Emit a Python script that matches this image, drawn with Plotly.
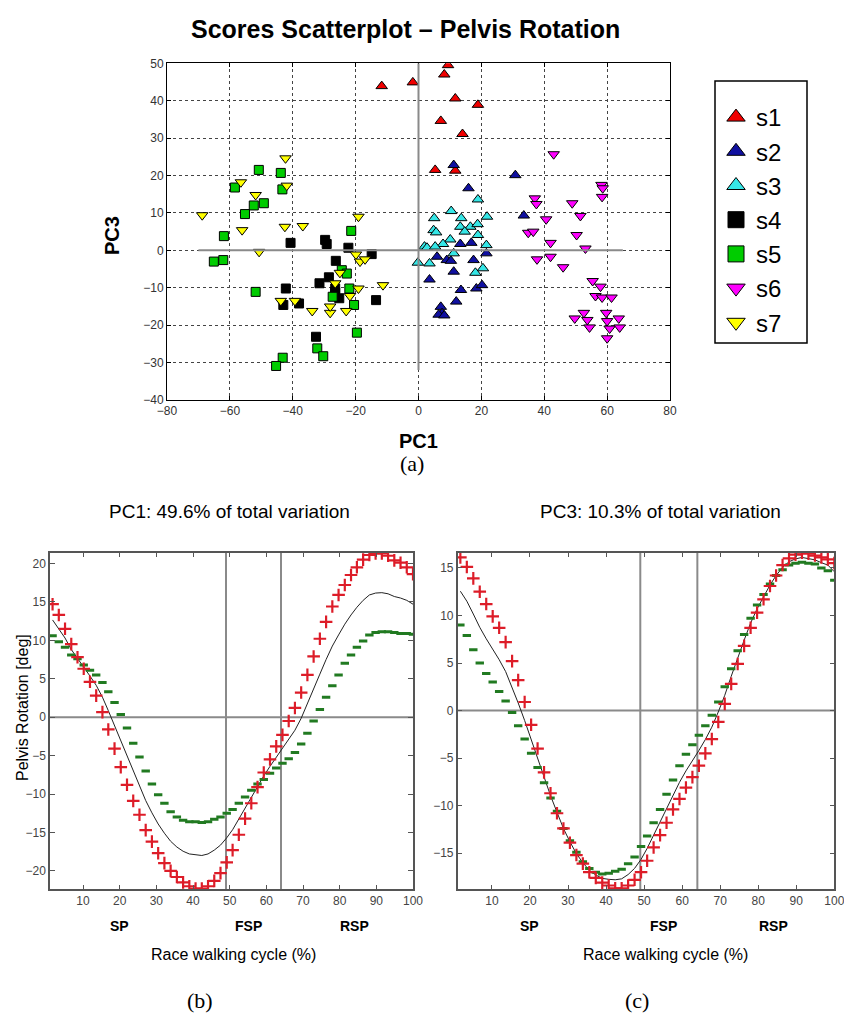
import plotly.graph_objects as go

W, H = 844, 1016
SANS = "Liberation Sans, Arial, Helvetica, sans-serif"
SERIF = "Liberation Serif, Times New Roman, serif"

# ---------------- (a) scores scatterplot: PC1 vs PC3 ----------------
series_names = ["s1", "s2", "s3", "s4", "s5", "s6", "s7"]
s1_pc1 = [-11.7, -1.8, 9.4, 8.2, 11.7, 18.9, 7.1, 14.0, 5.3, 11.7]
s1_pc3 = [43.9, 44.9, 49.5, 47.0, 40.6, 38.9, 34.6, 31.1, 21.5, 21.3]
s2_pc1 = [11.2, 30.8, 15.9, 33.5, 13.3, 16.8, 5.9, 9.0, 10.3, 11.2, 17.5, 21.6, 3.5,
          13.5, 18.4, 20.2, 12.0, 7.1, 7.5, 6.4, 8.2]
s2_pc3 = [22.8, 20.1, 16.6, 9.3, 1.7, 2.0, -1.7, -2.6, -2.8, -5.7, -2.6, -0.8, -7.8,
          -10.6, -10.2, -9.3, -13.7, -15.1, -16.8, -17.2, -17.4]
s3_pc1 = [18.9, 10.4, 5.0, 13.6, 21.8, 4.8, 5.6, 13.3, 16.5, 18.8, 14.7, 18.9, 10.1,
          7.8, 1.9, 2.7, 5.3, 11.2, 21.6, -0.2, 3.5, 20.5, 18.1]
s3_pc3 = [13.6, 10.5, 8.6, 8.6, 9.0, 5.4, 4.8, 6.3, 6.3, 7.0, 5.0, 4.1, 2.9,
          1.7, 1.0, 0.7, 1.0, -0.8, 1.4, -3.3, -3.5, -4.8, -6.0]
s4_pc1 = [-40.7, -29.7, -29.2, -22.3, -14.9, -26.3, -28.5, -31.5, -26.5, -42.2, -25.2,
          -43.0, -38.0, -13.5, -32.6, -26.5]
s4_pc3 = [2.0, 2.8, 1.7, 0.7, -1.0, -2.8, -7.2, -8.8, -10.2, -10.2, -12.8,
          -14.6, -14.2, -13.3, -23.1, -11.2]
s5_pc1 = [-50.8, -43.8, -58.4, -43.3, -49.2, -52.4, -55.2, -21.4, -61.9, -65.1, -62.1,
          -51.8, -24.4, -22.8, -27.3, -22.0, -20.5, -19.6, -32.2, -30.3, -43.2, -45.3]
s5_pc3 = [21.5, 20.7, 16.8, 16.3, 12.6, 12.0, 9.7, 5.2, 3.8, -3.0, -2.6,
          -11.1, -5.3, -6.2, -12.4, -10.2, -14.6, -22.0, -26.2, -28.3, -28.7, -30.9]
s6_pc1 = [43.0, 58.2, 58.6, 58.4, 37.0, 37.5, 48.9, 51.5, 40.6, 34.9, 36.5, 50.3, 42.0,
          53.1, 37.7, 42.0, 46.0, 55.4, 57.9, 56.3, 58.4, 61.4, 52.6, 59.7, 49.7, 53.7,
          60.0, 63.7, 54.4, 60.8, 64.0, 60.0]
s6_pc3 = [25.7, 17.5, 16.6, 14.3, 13.9, 12.4, 12.6, 9.2, 8.3, 4.7, 5.0, 4.1, 2.0,
          0.5, -2.4, -1.7, -4.5, -8.2, -9.7, -12.2, -12.6, -12.6, -16.7, -16.7, -18.2, -18.6,
          -18.9, -18.2, -20.6, -20.9, -20.6, -23.5]
s7_pc1 = [-68.8, -56.5, -51.8, -42.3, -41.9, -19.1, -56.1, -42.5, -36.8, -50.7, -19.9,
          -18.6, -17.0, -25.0, -26.5, -19.1, -11.3, -21.8, -43.8, -39.3, -33.8, -28.1,
          -28.1, -23.0]
s7_pc3 = [9.4, 18.2, 14.8, 24.6, 17.3, 9.0, 5.4, 6.3, 6.5, -0.4, -1.1,
          -3.0, -2.4, -6.0, -8.8, -10.2, -9.3, -12.2, -13.5, -13.5, -16.2, -16.7,
          -15.0, -16.2]

pc1_ticks = [-80, -60, -40, -20, 0, 20, 40, 60, 80]
pc3_ticks = [-40, -30, -20, -10, 0, 10, 20, 30, 40, 50]

# ---------------- (b), (c) reconstructed curves ----------------
cycle_pct = [1.7, 3.4, 5.1, 6.8, 8.5, 10.2, 11.9, 13.6, 15.3, 16.9,
             18.6, 20.3, 22.0, 23.7, 25.4, 27.1, 28.8, 30.5, 32.2, 33.9,
             35.6, 37.3, 39.0, 40.7, 42.4, 44.1, 45.8, 47.5, 49.2, 50.8,
             52.5, 54.2, 55.9, 57.6, 59.3, 61.0, 62.7, 64.4, 66.1, 67.8,
             69.5, 71.2, 72.9, 74.6, 76.3, 78.0, 79.7, 81.4, 83.1, 84.7,
             86.4, 88.1, 89.8, 91.5, 93.2, 94.9, 96.6, 98.3, 100.0]

pc1_plus = [14.7, 13.3, 11.5, 9.5, 7.8, 6.3, 4.6, 2.8, 0.65, -1.6,
            -4.1, -6.5, -8.8, -10.9, -12.7, -14.7, -16.2, -17.7, -19.0, -20.0,
            -20.8, -21.5, -22.0, -22.3, -22.3, -22.0, -21.3, -20.3, -18.9, -17.3,
            -15.3, -13.2, -11.2, -9.1, -7.2, -5.5, -3.8, -2.3, -0.5, 1.2,
            3.2, 5.5, 7.9, 10.2, 12.4, 14.4, 15.9, 17.2, 18.5, 19.5,
            20.5, 21.1, 21.3, 21.3, 21.0, 20.4, 20.1, 19.5, 18.6]
pc1_minus = [10.6, 9.8, 9.1, 8.1, 7.6, 6.8, 6.1, 5.5, 4.5, 3.3,
             1.9, 0.35, -1.4, -3.4, -5.2, -7.0, -8.7, -10.1, -11.2, -12.3,
             -13.0, -13.4, -13.6, -13.6, -13.7, -13.6, -13.3, -13.0, -12.5, -12.0,
             -11.2, -10.4, -9.5, -8.7, -8.1, -7.3, -6.6, -6.0, -5.4, -4.6,
             -3.5, -2.1, -0.5, 1.0, 2.6, 4.1, 5.5, 7.0, 8.1, 9.1,
             9.9, 10.7, 11.0, 11.1, 11.1, 11.0, 10.9, 10.9, 10.8]
pc1_mean = [12.65, 11.55, 10.3, 8.8, 7.7, 6.55, 5.35, 4.15, 2.6, 0.85,
            -1.1, -3.1, -5.1, -7.15, -8.95, -10.85, -12.45, -13.9, -15.1, -16.15,
            -16.9, -17.45, -17.8, -17.95, -18.0, -17.8, -17.3, -16.65, -15.7, -14.65,
            -13.25, -11.8, -10.35, -8.9, -7.65, -6.4, -5.2, -4.15, -2.95, -1.7,
            -0.15, 1.7, 3.7, 5.6, 7.5, 9.25, 10.7, 12.1, 13.3, 14.3,
            15.2, 15.9, 16.15, 16.2, 16.05, 15.7, 15.5, 15.2, 14.7]

pc3_plus = [16.1, 15.1, 13.9, 12.5, 11.2, 9.9, 8.7, 7.2, 5.2, 3.2,
            0.9, -1.5, -4.0, -6.5, -8.7, -10.8, -12.4, -13.9, -15.2, -16.1,
            -17.0, -17.6, -18.1, -18.4, -18.7, -18.7, -18.4, -17.8, -17.0, -15.8,
            -14.4, -13.1, -11.8, -10.4, -9.3, -8.1, -7.0, -5.8, -4.5, -3.0,
            -1.2, 0.7, 2.8, 4.9, 6.8, 8.7, 10.3, 11.7, 13.1, 14.2,
            15.3, 16.0, 16.4, 16.6, 16.5, 16.3, 16.1, 15.9, 15.5]
pc3_minus = [9.0, 7.9, 6.4, 5.0, 3.9, 3.0, 2.0, 1.0, -0.2, -1.6,
             -3.0, -4.5, -6.0, -7.6, -9.2, -10.6, -12.4, -13.7, -14.9, -15.9,
             -16.6, -17.0, -17.2, -17.1, -16.9, -16.7, -16.1, -15.4, -14.3, -13.2,
             -11.8, -10.4, -8.8, -7.3, -5.8, -4.6, -3.6, -2.6, -1.6, -0.5,
             0.9, 2.5, 4.4, 6.3, 8.0, 9.7, 11.1, 12.2, 13.3, 14.2,
             14.8, 15.3, 15.5, 15.6, 15.5, 15.4, 15.0, 14.7, 13.7]
pc3_mean = [12.55, 11.5, 10.15, 8.75, 7.55, 6.45, 5.35, 4.1, 2.5, 0.8,
            -1.05, -3.0, -5.0, -7.05, -8.95, -10.7, -12.4, -13.8, -15.05, -16.0,
            -16.8, -17.3, -17.65, -17.75, -17.8, -17.7, -17.25, -16.6, -15.65, -14.5,
            -13.1, -11.75, -10.3, -8.85, -7.55, -6.35, -5.3, -4.2, -3.05, -1.75,
            -0.15, 1.6, 3.6, 5.6, 7.4, 9.2, 10.7, 11.95, 13.2, 14.2,
            15.05, 15.65, 15.95, 16.1, 16.0, 15.85, 15.55, 15.3, 14.6]

phase_bounds = [49, 64]
phase_labels = ["SP", "FSP", "RSP"]
phase_label_pos = [20, 55, 84]
cycle_ticks = [10, 20, 30, 40, 50, 60, 70, 80, 90, 100]
rot_ticks_b = [-20, -15, -10, -5, 0, 5, 10, 15, 20]
rot_ticks_c = [-15, -10, -5, 0, 5, 10, 15]

# ---------------- styling ----------------
colors = ["#f00000", "#1010a0", "#35e6e6", "#000000", "#00cc00", "#ff00ff", "#ffff00"]
symbols = ["triangle-up", "triangle-up", "triangle-up", "square", "square",
           "triangle-down", "triangle-down"]
sizes = [10, 10, 10, 9, 9, 10, 10]
xs = [s1_pc1, s2_pc1, s3_pc1, s4_pc1, s5_pc1, s6_pc1, s7_pc1]
ys = [s1_pc3, s2_pc3, s3_pc3, s4_pc3, s5_pc3, s6_pc3, s7_pc3]


def px(x):
    return x / W


def py(y):
    return 1 - y / H


fig = go.Figure()

for name, c, sym, sz, xv, yv in zip(series_names, colors, symbols, sizes, xs, ys):
    fig.add_trace(go.Scatter(
        x=xv, y=yv, mode="markers", name=name, showlegend=False,
        marker=dict(symbol=sym, size=sz, color=c, line=dict(color="black", width=1)),
        xaxis="x", yaxis="y"))
# legend entries (larger markers)
for name, c, sym in zip(series_names, colors, symbols):
    fig.add_trace(go.Scatter(
        x=[None], y=[None], mode="markers", name=name, showlegend=True,
        marker=dict(symbol=sym, size=16, color=c, line=dict(color="black", width=1)),
        xaxis="x", yaxis="y"))

RED = "#dd1c28"
GREEN = "#217a21"
for xa, ya, plus, minus, mean in [("x2", "y2", pc1_plus, pc1_minus, pc1_mean),
                                  ("x3", "y3", pc3_plus, pc3_minus, pc3_mean)]:
    fig.add_trace(go.Scatter(x=cycle_pct, y=mean, mode="lines", showlegend=False,
                             line=dict(color="#222222", width=1), xaxis=xa, yaxis=ya))
    fig.add_trace(go.Scatter(x=cycle_pct, y=minus, mode="markers", showlegend=False,
                             marker=dict(symbol="line-ew", size=6,
                                         line=dict(color=GREEN, width=3)),
                             xaxis=xa, yaxis=ya))
    fig.add_trace(go.Scatter(x=cycle_pct, y=plus, mode="markers", showlegend=False,
                             marker=dict(symbol="cross-thin", size=9,
                                         line=dict(color=RED, width=2.2)),
                             xaxis=xa, yaxis=ya))

tickfont = dict(family=SANS, size=12, color="#444444")
common_scatter = dict(showgrid=True, gridcolor="#444444", griddash="dot", gridwidth=1,
                      zeroline=False, showline=True, linecolor="black", linewidth=1,
                      mirror="allticks", ticks="inside", ticklen=4, tickcolor="black",
                      automargin=False, ticklabeloverflow="allow",
                      tickfont=dict(family=SANS, size=12, color="#333333"))
common_line = dict(showgrid=False, zeroline=False, showline=True, linecolor="#555555",
                   linewidth=1.5, mirror="allticks", ticks="inside", ticklen=5,
                   tickcolor="#555555", tickfont=tickfont, automargin=False,
                   ticklabeloverflow="allow")

fig.update_layout(
    width=W, height=H, margin=dict(l=0, r=0, t=0, b=0, autoexpand=False),
    paper_bgcolor="white", plot_bgcolor="white",
    xaxis=dict(domain=[px(167), px(670)], range=[-80, 80], tickvals=pc1_ticks,
               anchor="y", **common_scatter),
    yaxis=dict(domain=[py(400), py(63.3)], range=[-40, 50], tickvals=pc3_ticks,
               anchor="x", **common_scatter),
    xaxis2=dict(domain=[px(50), px(413)], range=[1, 100], tickvals=cycle_ticks,
                anchor="y2", **common_line),
    yaxis2=dict(domain=[py(889.3), py(552.7)], range=[-22.4, 21.4], tickvals=rot_ticks_b,
                anchor="x2", **common_line),
    xaxis3=dict(domain=[px(457.7), px(834.3)], range=[1, 100], tickvals=cycle_ticks,
                anchor="y3", **common_line),
    yaxis3=dict(domain=[py(889.3), py(552.7)], range=[-18.8, 16.6], tickvals=rot_ticks_c,
                anchor="x3", **common_line),
    legend=dict(x=px(716), y=py(95), xanchor="left", yanchor="top",
                bgcolor="rgba(0,0,0,0)", borderwidth=0,
                font=dict(family=SANS, size=24, color="black"),
                itemwidth=30, tracegroupgap=0),
)

shapes = []
# zero axes lines in the scatter
shapes.append(dict(type="line", xref="x", yref="y", x0=0, x1=0, y0=-32, y1=50,
                   line=dict(color="#8a8a8a", width=2)))
shapes.append(dict(type="line", xref="x", yref="y", x0=-70, x1=65, y0=0, y1=0,
                   line=dict(color="#8a8a8a", width=2)))
# legend box
shapes.append(dict(type="rect", xref="paper", yref="paper", x0=px(715), x1=px(807),
                   y0=py(343), y1=py(81), line=dict(color="black", width=1.5),
                   fillcolor="rgba(0,0,0,0)"))
for xa, ya in [("x2", "y2"), ("x3", "y3")]:
    shapes.append(dict(type="line", xref=f"{xa} domain", yref=ya, x0=0, x1=1, y0=0, y1=0,
                       line=dict(color="#8a8a8a", width=2), layer="below"))
    for b in phase_bounds:
        shapes.append(dict(type="line", xref=xa, yref=f"{ya} domain", x0=b, x1=b,
                           y0=0, y1=1, line=dict(color="#8a8a8a", width=2), layer="below"))
fig.update_layout(shapes=shapes)


def label(text, x, y, size, family=SANS, angle=0, xref="paper"):
    return dict(text=text, x=x, y=y, xref=xref, yref="paper", showarrow=False,
                xanchor="center", yanchor="middle", textangle=angle,
                font=dict(family=family, size=size, color="black"))


ann = [
    label("<b>Scores Scatterplot – Pelvis Rotation</b>", px(405), py(29), 25),
    label("<b>PC3</b>", px(112), py(236), 20, angle=-90),
    label("<b>PC1</b>", px(418), py(441), 20),
    label("(a)", px(412), py(463), 22, family=SERIF),
    label("PC1: 49.6% of total variation", px(230), py(511), 19),
    label("PC3: 10.3% of total variation", px(660), py(511), 19),
    label("Pelvis Rotation [deg]", px(22), py(708), 16, angle=-90),
    label("(b)", px(200), py(1000), 22, family=SERIF),
    label("(c)", px(637), py(1000), 22, family=SERIF),
]
for xa, cx in [("x2", 233), ("x3", 665)]:
    for lab, pos in zip(phase_labels, phase_label_pos):
        ann.append(label(f"<b>{lab}</b>", pos, py(926), 14, xref=xa))
    ann.append(label("Race walking cycle (%)", px(cx), py(954), 16))
fig.update_layout(annotations=ann)

fig.write_html("out.html", config={"displayModeBar": False},
               post_script="document.body.style.margin='0';document.body.style.padding='0';")
